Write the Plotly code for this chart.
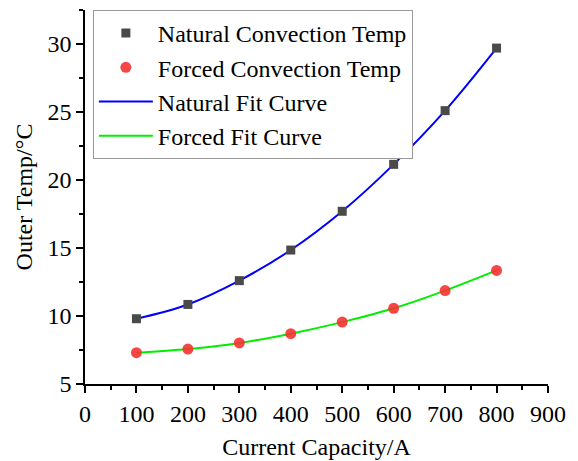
import plotly.graph_objects as go

current = [100, 200, 300, 400, 500, 600, 700, 800]
natural_temp = [9.8, 10.85, 12.6, 14.85, 17.7, 21.15, 25.1, 29.7]
forced_temp = [7.3, 7.57, 8.02, 8.7, 9.55, 10.57, 11.87, 13.35]

x_ticks = [0, 100, 200, 300, 400, 500, 600, 700, 800, 900]
y_ticks = [5, 10, 15, 20, 25, 30]

font_family = "Liberation Serif, Times New Roman, serif"
FS = 24

fig = go.Figure()
fig.add_trace(go.Scatter(x=current, y=natural_temp, mode="lines", name="Natural Fit Curve",
                         line=dict(color="#0000ff", width=2, shape="spline", smoothing=1), legendrank=3))
fig.add_trace(go.Scatter(x=current, y=forced_temp, mode="lines", name="Forced Fit Curve",
                         line=dict(color="#00ee00", width=2, shape="spline", smoothing=1), legendrank=4))
fig.add_trace(go.Scatter(x=current, y=natural_temp, mode="markers", name="Natural Convection Temp",
                         marker=dict(symbol="square", size=9, color="#4a4a4a"), legendrank=1))
fig.add_trace(go.Scatter(x=current, y=forced_temp, mode="markers", name="Forced Convection Temp",
                         marker=dict(symbol="circle", size=11, color="rgba(245,50,50,0.9)"), legendrank=2))

axis_common = dict(showgrid=False, zeroline=False, showline=True, linecolor="black", linewidth=1.5,
                   ticks="outside", ticklen=7, tickwidth=1.5, tickcolor="black", automargin=False,
                   tickfont=dict(family=font_family, size=FS, color="black"))

fig.update_xaxes(range=[0, 900], tickvals=x_ticks, ticktext=[str(v) for v in x_ticks],
                 minor=dict(dtick=50, ticks="outside", ticklen=4, tickcolor="black", tickwidth=1.5),
                 title=dict(text="Current Capacity/A", font=dict(family=font_family, size=FS, color="black"),
                            standoff=13),
                 **axis_common)
fig.update_yaxes(range=[5, 32.5], tickvals=y_ticks, ticktext=[str(v) for v in y_ticks],
                 minor=dict(dtick=2.5, ticks="outside", ticklen=4, tickcolor="black", tickwidth=1.5),
                 title=dict(text="Outer Temp/°C", font=dict(family=font_family, size=FS, color="black"),
                            standoff=8),
                 **axis_common)

fig.update_layout(
    width=578, height=461,
    margin=dict(l=77, r=38, t=2, b=85),
    plot_bgcolor="white", paper_bgcolor="white",
    legend=dict(traceorder="normal", x=0.017, y=1.0, xanchor="left", yanchor="top",
                bgcolor="white", bordercolor="#999999", borderwidth=1,
                font=dict(family=font_family, size=FS, color="black"),
                itemwidth=54, tracegroupgap=0),
)

fig.write_html("out.html")
